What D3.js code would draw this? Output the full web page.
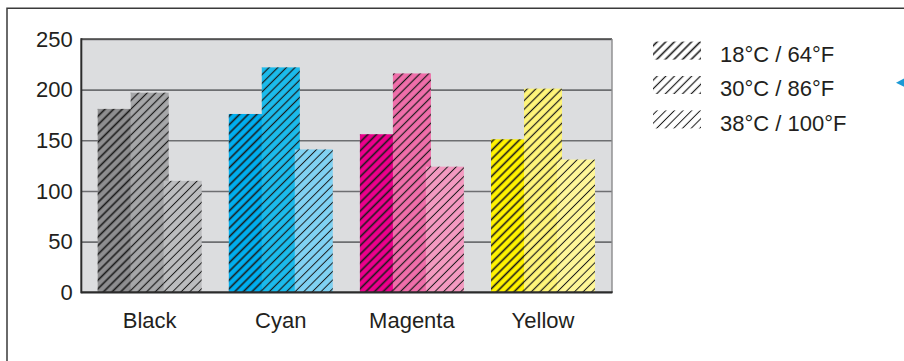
<!DOCTYPE html>
<html>
<head>
<meta charset="utf-8">
<script src="https://cdn.jsdelivr.net/npm/d3@7/dist/d3.min.js"></script>
<style>
  html, body { margin: 0; padding: 0; background: #fff; }
  svg { display: block; font-family: "Liberation Sans", Arial, Helvetica, sans-serif; }
</style>
</head>
<body>
<svg id="chart" width="904" height="361"></svg>
<script>
const categories = ["Black", "Cyan", "Magenta", "Yellow"];
const seriesNames = ["18°C / 64°F", "30°C / 86°F", "38°C / 100°F"];
const values18 = [181, 176, 156, 151];
const values30 = [197, 222, 216, 201];
const values38 = [110, 141, 124, 131];
const yTicks = [0, 50, 100, 150, 200, 250];
const barColors = {
  Black:   ["#8e8e90", "#a6a7a9", "#bcbdbf"],
  Cyan:    ["#00aeef", "#1bbbec", "#80d2f3"],
  Magenta: ["#ec008c", "#f06eaa", "#f49ac1"],
  Yellow:  ["#fff200", "#fff57a", "#fff799"]
};
const hatchWidths = [1.6, 1.2, 1.0];

const svg = d3.select("#chart");
const plot = { left: 81.3, right: 612, top: 39, bottom: 292.3 };

// hatch patterns
const defs = svg.append("defs");
hatchWidths.forEach((w, i) => {
  const p = defs.append("pattern")
    .attr("id", "hatch" + i)
    .attr("patternUnits", "userSpaceOnUse")
    .attr("width", 6.1).attr("height", 6.1)
    .attr("patternTransform", "rotate(-45)");
  p.append("line")
    .attr("x1", -1).attr("x2", 8).attr("y1", 3.05).attr("y2", 3.05)
    .attr("stroke", "#1a1a1a").attr("stroke-width", w);
});

// outer frame
svg.append("path")
  .attr("d", "M7,370 L7,8.3 L910,8.3")
  .attr("fill", "none").attr("stroke", "#3a3a3a").attr("stroke-width", 1.5);

// scales
const y = d3.scaleLinear().domain([0, 250]).range([plot.bottom, plot.top]);
const x0 = d3.scaleBand().domain(categories).range([97.7, 595]).paddingInner(0.207).paddingOuter(0);
const barW = 38;
const x1 = d3.scalePoint().domain(d3.range(seriesNames.length)).range([0, x0.bandwidth() - barW]);

// plot background
svg.append("rect")
  .attr("x", plot.left).attr("y", plot.top)
  .attr("width", plot.right - plot.left).attr("height", plot.bottom - plot.top)
  .attr("fill", "#dcdddf");

// gridlines
const grid = svg.append("g")
  .attr("transform", `translate(${plot.left},0)`)
  .call(d3.axisLeft(y).tickValues(yTicks).tickSize(-(plot.right - plot.left)).tickFormat(""));
grid.select(".domain").remove();
grid.selectAll("line").attr("stroke", "#6d6e71").attr("stroke-width", 1.6);

// top & right border
svg.append("line").attr("x1", plot.left).attr("x2", plot.right).attr("y1", plot.top).attr("y2", plot.top)
  .attr("stroke", "#4a4a4a").attr("stroke-width", 1.6);
svg.append("line").attr("x1", plot.right).attr("x2", plot.right).attr("y1", plot.top).attr("y2", plot.bottom)
  .attr("stroke", "#8a8a8c").attr("stroke-width", 1.4);

// bars
const seriesData = [values18, values30, values38];
const groups = svg.append("g").selectAll("g")
  .data(categories).join("g")
  .attr("transform", d => `translate(${x0(d)},0)`);
groups.each(function(cat, ci) {
  const g = d3.select(this);
  seriesData.forEach((vals, si) => {
    const v = vals[ci];
    g.append("rect")
      .attr("x", x1(si)).attr("y", y(v))
      .attr("width", barW).attr("height", y(0) - y(v))
      .attr("fill", barColors[cat][si]);
    g.append("rect")
      .attr("x", x1(si)).attr("y", y(v))
      .attr("width", barW).attr("height", y(0) - y(v))
      .attr("fill", `url(#hatch${si})`);
  });
});

// left & bottom axis lines
svg.append("line").attr("x1", plot.left).attr("x2", plot.left).attr("y1", plot.top - 0.8).attr("y2", plot.bottom + 1)
  .attr("stroke", "#2b2b2b").attr("stroke-width", 2);
svg.append("line").attr("x1", plot.left).attr("x2", plot.right + 0.7).attr("y1", plot.bottom).attr("y2", plot.bottom)
  .attr("stroke", "#2b2b2b").attr("stroke-width", 2);

// y axis labels
const yAxis = svg.append("g")
  .attr("transform", `translate(${plot.left},0)`)
  .call(d3.axisLeft(y).tickValues(yTicks).tickSize(0).tickPadding(8.6));
yAxis.select(".domain").remove();
yAxis.selectAll("text")
  .attr("font-family", "Liberation Sans, Arial, sans-serif")
  .attr("font-size", 22).attr("fill", "#231f20").attr("dy", "0.33em");

// x axis labels
const xAxis = svg.append("g")
  .attr("transform", `translate(0,${plot.bottom})`)
  .call(d3.axisBottom(x0).tickSize(0).tickPadding(19.7));
xAxis.select(".domain").remove();
xAxis.selectAll("text")
  .attr("font-family", "Liberation Sans, Arial, sans-serif")
  .attr("font-size", 22).attr("fill", "#231f20");

// legend
const legend = svg.append("g").selectAll("g")
  .data(seriesNames).join("g")
  .attr("transform", (d, i) => `translate(653,${41.6 + i * 34.4})`);
legend.append("rect")
  .attr("width", 48).attr("height", 18)
  .attr("fill", (d, i) => `url(#hatch${i})`);
legend.append("text")
  .attr("x", 67).attr("y", 20.2)
  .attr("font-size", 22).attr("fill", "#231f20")
  .text(d => d);

// small blue marker at right edge
svg.append("path")
  .attr("d", "M896,82.7 L906,77.6 L906,87.8 Z")
  .attr("fill", "#1b9ad6");
</script>
</body>
</html>
